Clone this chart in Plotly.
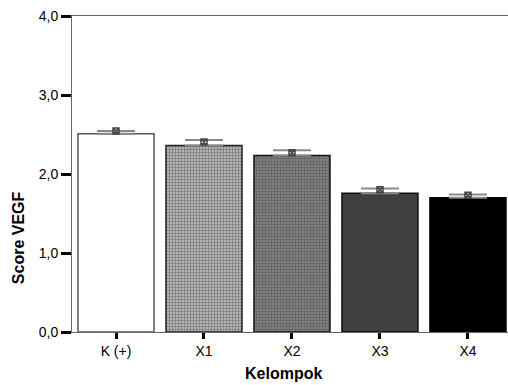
import plotly.graph_objects as go

categories = ["K (+)", "X1", "X2", "X3", "X4"]
means = [2.51, 2.36, 2.235, 1.755, 1.70]
upper = [2.545, 2.43, 2.30, 1.815, 1.74]
markers = [2.545, 2.405, 2.27, 1.80, 1.73]

fills = ["white", "#b4b4b4", "#808080", "#404040", "black"]
pat_shapes = ["", "+", "+", "", ""]
pat_fg = ["white", "#4a4a4a", "#262626", "#404040", "black"]
line_cols = ["#555555", "#222222", "#111111", "#111111", "black"]

err_plus = [u - m for u, m in zip(upper, means)]

fig = go.Figure()
fig.add_trace(go.Bar(
    x=categories, y=means, width=0.864,
    marker=dict(color=fills,
                line=dict(color=line_cols, width=1.5),
                pattern=dict(shape=pat_shapes, fgcolor=pat_fg, bgcolor=fills,
                             size=3, solidity=0.45)),
    error_y=dict(type="data", symmetric=False, array=err_plus,
                 arrayminus=[0]*5, color="#888888", thickness=2, width=19),
    showlegend=False,
))
fig.add_trace(go.Scatter(
    x=categories, y=markers, mode="markers",
    marker=dict(symbol="square-x-open", size=6, color="#444444",
                line=dict(width=1.5, color="#444444")),
    showlegend=False,
))

fig.update_layout(
    width=508, height=385,
    margin=dict(l=72, r=0, t=16, b=53),
    plot_bgcolor="white", paper_bgcolor="white",
    separators=",.",
    font=dict(family="Liberation Sans, Arial, sans-serif", size=14, color="black"),
    bargap=0.136,
    annotations=[
        dict(text="<b>Kelompok</b>", xref="paper", yref="paper",
             x=0.486, y=-0.13, xanchor="center", yanchor="middle",
             showarrow=False, font=dict(size=16)),
        dict(text="<b>Score VEGF</b>", xref="paper", yref="paper",
             x=-0.124, y=0.30, xanchor="center", yanchor="middle",
             textangle=-90, showarrow=False, font=dict(size=16)),
    ],
)
fig.update_xaxes(
    range=[-0.5, 4.455], automargin=False,
    showline=True, linecolor="#666666", linewidth=1, mirror=True,
    ticks="outside", ticklen=6, tickwidth=3, tickcolor="black",
    showgrid=False,
    tickfont=dict(size=14),
)
fig.update_yaxes(
    range=[0, 4], dtick=1, tickformat=".1f", automargin=False,
    showline=True, linecolor="#666666", linewidth=1,
    ticks="outside", ticklen=10, tickwidth=3, tickcolor="black",
    showgrid=False, zeroline=False,
    tickfont=dict(size=14),
)

fig.write_html("out.html",
               config={"displayModeBar": False},
               post_script="document.body.style.margin='0';")
